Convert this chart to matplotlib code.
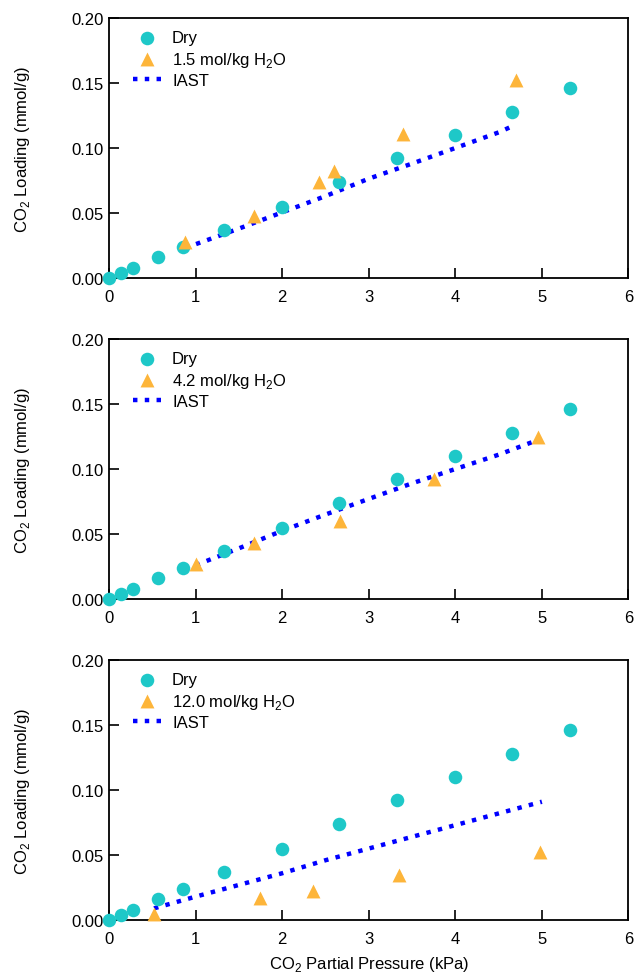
import numpy as np
import matplotlib
matplotlib.use('Agg')
import matplotlib.pyplot as plt

plt.rcParams['font.family'] = ['Liberation Sans', 'DejaVu Sans']
plt.rcParams['mathtext.fontset'] = 'custom'
plt.rcParams['mathtext.rm'] = 'Liberation Sans'

# dry isotherm (same in every panel)
dry_x = [0.0, 0.14, 0.28, 0.57, 0.85, 1.33, 2.0, 2.66, 3.33, 4.0, 4.65, 5.32]
dry_y = [0.0, 0.004, 0.008, 0.016, 0.024, 0.037, 0.055, 0.074, 0.092, 0.110, 0.128, 0.146]

# wet series, one per panel
wet_labels = ['1.5 mol/kg H$_2$O', '4.2 mol/kg H$_2$O', '12.0 mol/kg H$_2$O']
wet_x = [[0.88, 1.68, 2.43, 2.60, 3.40, 4.70],
         [1.00, 1.68, 2.67, 3.75, 4.96],
         [0.52, 1.74, 2.36, 3.35, 4.98]]
wet_y = [[0.028, 0.048, 0.074, 0.082, 0.111, 0.152],
         [0.027, 0.043, 0.060, 0.092, 0.125],
         [0.005, 0.017, 0.022, 0.035, 0.052]]

# IAST predictions
iast_x = [[0.88, 1.0, 1.5, 2.0, 2.5, 3.0, 3.5, 4.0, 4.5, 4.7],
          [1.0, 1.5, 2.0, 2.5, 3.0, 3.5, 4.0, 4.5, 4.96],
          [0.52, 1.0, 1.5, 2.0, 2.5, 3.0, 3.5, 4.0, 4.5, 5.0]]
iast_y = [[0.0226, 0.026, 0.038, 0.0505, 0.063, 0.0764, 0.088, 0.100, 0.112, 0.118],
          [0.026, 0.039, 0.0525, 0.065, 0.077, 0.089, 0.100, 0.111, 0.1225],
          [0.009, 0.018, 0.027, 0.036, 0.046, 0.055, 0.064, 0.073, 0.082, 0.091]]

cyan = '#1ec8c8'
orange = '#fdb53a'
blue = '#0000ff'

fig = plt.figure(figsize=(6.35, 9.79), dpi=100)
bottoms = [0.715, 0.3871, 0.0592]

for i in range(3):
    ax = fig.add_axes([0.1717, bottoms[i], 0.818, 0.2656])
    ax.plot(iast_x[i], iast_y[i], linestyle=':', color=blue, lw=3.2,
            label='IAST', zorder=2)
    ax.scatter(dry_x, dry_y, s=95, color=cyan, marker='o', label='Dry',
               zorder=3, clip_on=False, linewidths=0)
    ax.scatter(wet_x[i], wet_y[i], s=100, color=orange, marker='^',
               label=wet_labels[i], zorder=4, clip_on=False, linewidths=0)

    ax.set_xlim(0, 6)
    ax.set_ylim(0, 0.20)
    ax.set_xticks(range(7))
    ax.set_yticks(np.arange(0, 0.201, 0.05))
    ax.set_yticklabels(['%.2f' % v for v in np.arange(0, 0.201, 0.05)])
    ax.tick_params(direction='in', length=7, width=1.2, labelsize=12,
                   top=False, right=False)
    ax.tick_params(axis='x', pad=8)
    ax.tick_params(axis='y', pad=4)
    for sp in ax.spines.values():
        sp.set_linewidth(1.3)
    ax.set_ylabel('CO$_2$ Loading (mmol/g)', fontsize=12)
    ax.yaxis.set_label_coords(-0.148, 0.5)

    h, l = ax.get_legend_handles_labels()
    order = [1, 2, 0]
    ax.legend([h[k] for k in order], [l[k] for k in order], loc='upper left',
              bbox_to_anchor=(0.033, 0.978), borderaxespad=0,
              frameon=False, fontsize=12, handlelength=1.75, handletextpad=0.6,
              labelspacing=0.25)

    if i == 2:
        ax.set_xlabel('CO$_2$ Partial Pressure (kPa)', fontsize=12, labelpad=6)

fig.savefig('out.png', dpi=100)
